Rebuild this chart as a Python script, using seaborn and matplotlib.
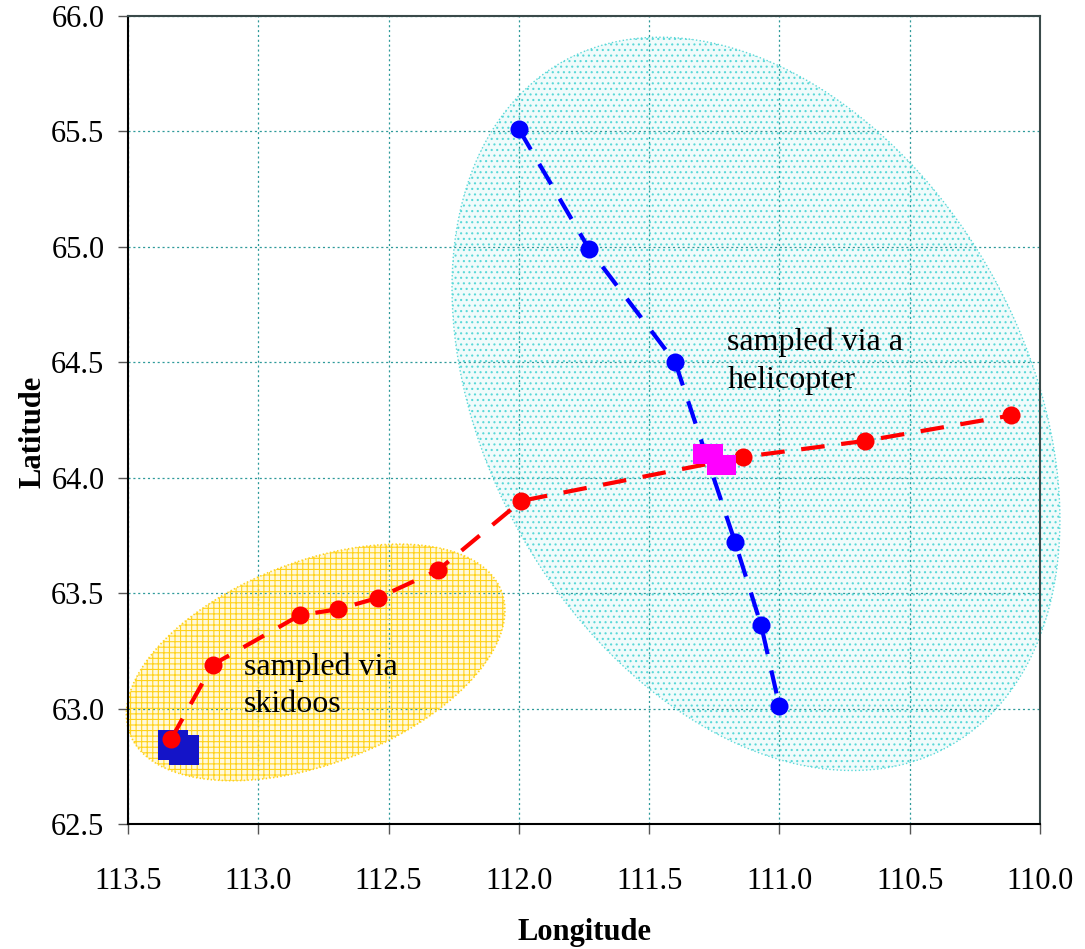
import numpy as np
import matplotlib
matplotlib.use("Agg")
import matplotlib.pyplot as plt
import seaborn as sns
from matplotlib.patches import Polygon

sns.set_style("white")
plt.rcParams["font.family"] = ["Liberation Serif", "DejaVu Serif"]
plt.rcParams["text.color"] = "black"
plt.rcParams["xtick.color"] = "black"
plt.rcParams["ytick.color"] = "black"
plt.rcParams["axes.labelcolor"] = "black"
plt.rcParams["lines.scale_dashes"] = False
plt.rcParams["hatch.linewidth"] = 0.8

# helicopter transect (N-S), blue
heli_lon = [112.00, 111.73, 111.40, 111.17, 111.07, 111.00]
heli_lat = [65.51, 64.99, 64.50, 63.72, 63.36, 63.01]

# skidoo + helicopter transect (W-E), red
red_lon = [113.335, 113.175, 112.84, 112.695, 112.54, 112.31, 111.99, 111.14, 110.67, 110.11]
red_lat = [62.867, 63.19, 63.405, 63.43, 63.48, 63.60, 63.90, 64.09, 64.16, 64.27]

# base camps
blue_sq_lon = [113.326, 113.286]
blue_sq_lat = [62.842, 62.820]
mag_sq_lon = [111.293, 111.255, 111.240, 111.205]
mag_sq_lat = [64.103, 64.103, 64.055, 64.055]

x_ticks = [113.5, 113.0, 112.5, 112.0, 111.5, 111.0, 110.5, 110.0]
y_ticks = [62.5, 63.0, 63.5, 64.0, 64.5, 65.0, 65.5, 66.0]

# ellipse outlines: centre (lon, lat), semi-axes in pixels, angle in degrees
PX_PER_LON = 912 / 3.5
PX_PER_LAT = 808 / 3.5


def ellipse_pts(lon_c, lat_c, a_px, b_px, ang_deg, n=300):
    t = np.linspace(0, 2 * np.pi, n)
    th = np.deg2rad(ang_deg)
    px = a_px * np.cos(t) * np.cos(th) - b_px * np.sin(t) * np.sin(th)
    py = a_px * np.cos(t) * np.sin(th) + b_px * np.sin(t) * np.cos(th)
    return np.column_stack([lon_c - px / PX_PER_LON, lat_c + py / PX_PER_LAT])


fig = plt.figure(figsize=(10.85, 9.49), dpi=100)
ax = fig.add_axes([0.118, 0.1317, 0.8405, 0.8514])

# regions
heli_pts = ellipse_pts(111.09, 64.32, 393, 269, -60.4)
ax.add_patch(Polygon(heli_pts, closed=True, facecolor="#F0FBFB", edgecolor="none",
                     zorder=0.2, clip_on=False))
ax.add_patch(Polygon(heli_pts, closed=True, facecolor="none", edgecolor="#5AD8D8",
                     hatch="...", linestyle=":", linewidth=1.0, zorder=1, clip_on=False))
ski_pts = ellipse_pts(112.78, 63.20, 199, 101, 21)
ax.add_patch(Polygon(ski_pts, closed=True, facecolor="#FFF9DC", edgecolor="none",
                     zorder=0.2, clip_on=False))
ax.add_patch(Polygon(ski_pts, closed=True, facecolor="none", edgecolor="#FFD21A",
                     hatch="+++", linestyle=":", linewidth=1.2, zorder=1, clip_on=False))

# transects
sns.scatterplot(x=blue_sq_lon, y=blue_sq_lat, marker="s", s=440, color="#1414C8",
                linewidth=0, ax=ax, zorder=2)
sns.lineplot(x=red_lon, y=red_lat, sort=False, estimator=None, color="#FF0000",
             linewidth=3, linestyle=(0, (17, 12)), marker="o", markersize=13,
             markeredgewidth=0, ax=ax, zorder=3)
sns.lineplot(x=heli_lon, y=heli_lat, sort=False, estimator=None, color="#0000FF",
             linewidth=3, linestyle=(0, (17, 12)), marker="o", markersize=13,
             markeredgewidth=0, ax=ax, zorder=3)
sns.scatterplot(x=mag_sq_lon, y=mag_sq_lat, marker="s", s=190, color="#FF00FF",
                linewidth=0, ax=ax, zorder=4)

ax.text(111.20, 64.65, "sampled via a\nhelicopter", fontsize=23, ha="left", va="top",
        linespacing=1.4, zorder=5)
ax.text(113.055, 63.245, "sampled via\nskidoos", fontsize=23, ha="left", va="top",
        linespacing=1.4, zorder=5)

ax.set_xlim(113.5, 110.0)
ax.set_ylim(62.5, 66.0)
ax.set_xticks(x_ticks)
ax.set_yticks(y_ticks)
ax.set_xticklabels([f"{v:.1f}" for v in x_ticks])
ax.set_yticklabels([f"{v:.1f}" for v in y_ticks])
ax.tick_params(axis="both", direction="out", length=7, width=1, color="#555555",
               labelsize=22, left=True, bottom=True)
ax.tick_params(axis="x", pad=24)
ax.tick_params(axis="y", pad=10)

ax.set_axisbelow(True)
ax.grid(True, color="#2E9A9A", linestyle=(0, (1.5, 2)), linewidth=0.9)

for side in ["left", "bottom"]:
    ax.spines[side].set_color("black")
    ax.spines[side].set_linewidth(1.5)
for side in ["top", "right"]:
    ax.spines[side].set_color("#3A4A4A")
    ax.spines[side].set_linewidth(1.5)

ax.set_xlabel("Longitude", fontsize=22, fontweight="bold")
ax.set_ylabel("Latitude", fontsize=22, fontweight="bold")
ax.xaxis.set_label_coords(0.5, -0.116)
ax.yaxis.set_label_coords(-0.088, 0.485)

fig.savefig("out.png", dpi=100)
